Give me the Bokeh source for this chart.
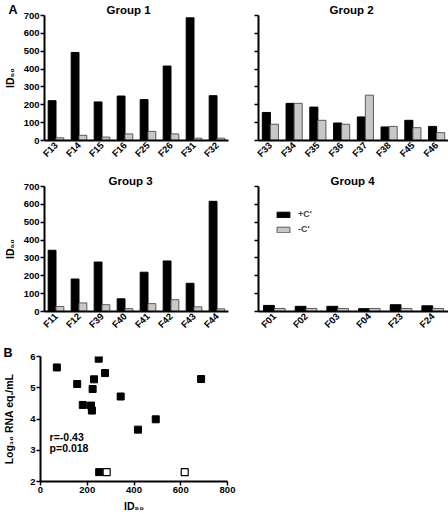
import math
from bokeh.plotting import figure
from bokeh.layouts import column, row
from bokeh.models import (FactorRange, Range1d, FixedTicker, Title,
                          Legend, LegendItem, ColumnDataSource)
from bokeh.transform import dodge
from bokeh.core.properties import value
from bokeh.embed import file_html
from bokeh.resources import INLINE

FONT = "Liberation Sans"

# ---- data ----
g1_names = ["F13", "F14", "F15", "F16", "F25", "F26", "F31", "F32"]
g1_plus = [223, 493, 216, 249, 229, 417, 687, 251]
g1_minus = [15, 29, 19, 37, 51, 37, 13, 13]

g2_names = ["F33", "F34", "F35", "F36", "F37", "F38", "F45", "F46"]
g2_plus = [157, 208, 187, 98, 132, 76, 113, 79]
g2_minus = [91, 208, 113, 91, 254, 79, 72, 44]

g3_names = ["F11", "F12", "F39", "F40", "F41", "F42", "F43", "F44"]
g3_plus = [343, 182, 277, 71, 220, 283, 158, 617]
g3_minus = [28, 48, 38, 16, 44, 66, 26, 15]

g4_names = ["F01", "F02", "F03", "F04", "F23", "F24"]
g4_plus = [34, 29, 29, 16, 38, 32]
g4_minus = [17, 17, 17, 17, 17, 17]

y_ticks_bar = [0, 100, 200, 300, 400, 500, 600, 700]

sc_filled_id50 = [70, 157, 181, 216, 220, 223, 229, 249, 251, 276, 343, 417, 493, 687]
sc_filled_rna = [5.65, 5.12, 4.45, 4.43, 4.27, 4.96, 5.27, 5.93, 2.30, 5.47, 4.72, 3.66, 3.99, 5.28]
sc_open_id50 = [283, 617]
sc_open_rna = [2.30, 2.30]
x_ticks_b = [0, 200, 400, 600, 800]
y_ticks_b = [2, 3, 4, 5, 6]

stats_text = ["r=-0.43", "p=0.018"]
stats_x = [39, 39]
stats_y = [3.42, 3.07]

BLACK = "#000000"
GRAY = "#c8c8c8"
GRAY_LINE = "#5a5a5a"


def make_title(text, offset, standoff, size="11.5px"):
    return Title(text=text, align="left", offset=offset, standoff=standoff,
                 text_font=FONT, text_font_size=size, text_font_style="bold",
                 text_color=BLACK)


def style_axes(p, show_ylabels=True, ylabel=None):
    p.xgrid.visible = False
    p.ygrid.visible = False
    p.outline_line_color = None
    for ax in (p.xaxis[0], p.yaxis[0]):
        ax.axis_line_width = 2
        ax.axis_line_color = BLACK
        ax.major_label_text_font = FONT
        ax.major_label_text_font_style = "bold"
        ax.major_label_text_font_size = "9.5px"
        ax.major_label_text_color = BLACK
        ax.minor_tick_line_color = None
        ax.axis_label_text_font = FONT
        ax.axis_label_text_font_style = "bold"
        ax.axis_label_text_font_size = "10.5px"
        ax.axis_label_text_color = BLACK
    ya = p.yaxis[0]
    ya.major_tick_out = 4
    ya.major_tick_in = 0
    ya.major_tick_line_width = 1.5
    ya.major_label_standoff = 1
    if not show_ylabels:
        ya.major_label_text_color = None
    if ylabel:
        ya.axis_label = ylabel
        ya.axis_label_standoff = 5


def bar_panel(title, names, plus, minus, width, height, mbl, mbr, mbt, mbb,
              title_offset, show_ylabels=True, letter=None):
    src = ColumnDataSource(dict(name=names, plus=plus, minus=minus))
    p = figure(x_range=FactorRange(factors=names, range_padding=0),
               y_range=Range1d(0, 700), width=width, height=height,
               min_border_left=mbl, min_border_right=mbr,
               min_border_top=mbt, min_border_bottom=mbb,
               output_backend="svg", toolbar_location=None)
    r1 = p.vbar(x=dodge("name", -0.17, range=p.x_range), top="plus", width=0.34,
                source=src, fill_color=BLACK, line_color=BLACK, line_width=1)
    r2 = p.vbar(x=dodge("name", 0.17, range=p.x_range), top="minus", width=0.34,
                source=src, fill_color=GRAY, line_color=GRAY_LINE, line_width=1)
    if letter is None:
        p.title = make_title(title, title_offset, 0)
    else:
        # panel letter is the outer title; the group title sits next to the frame
        p.title = make_title(letter, -36, -30, "12.5px")
        p.add_layout(make_title(title, title_offset, 0), "above")
    style_axes(p, show_ylabels, "ID\u2085\u2080" if show_ylabels else None)
    p.yaxis.ticker = FixedTicker(ticks=y_ticks_bar)
    xa = p.xaxis[0]
    xa.major_tick_line_color = None
    xa.major_tick_out = 0
    xa.major_tick_in = 0
    xa.major_label_orientation = math.pi / 4
    xa.major_label_standoff = 3
    return p, r1, r2


p1, _, _ = bar_panel("Group 1", g1_names, g1_plus, g1_minus, 230, 171, 38, 2, 15, 31, 62, letter="A")
p2, _, _ = bar_panel("Group 2", g2_names, g2_plus, g2_minus, 218, 171, 28, 0, 15, 31, 71, False)
p3, _, _ = bar_panel("Group 3", g3_names, g3_plus, g3_minus, 230, 168, 38, 2, 15, 28, 64)
p4, r41, r42 = bar_panel("Group 4", g4_names, g4_plus, g4_minus, 218, 168, 28, 0, 15, 28, 72, False)

legend = Legend(items=[LegendItem(label="+C'", renderers=[r41]),
                       LegendItem(label="-C'", renderers=[r42])],
                location=(17, 77), orientation="vertical",
                border_line_color=None, background_fill_alpha=0,
                padding=0, margin=0, spacing=5,
                glyph_width=16, glyph_height=7, label_height=7,
                label_standoff=7, label_text_font=FONT,
                label_text_font_style="bold", label_text_font_size="9px")
p4.add_layout(legend)

# ---- panel B ----
p5 = figure(x_range=Range1d(0, 800), y_range=Range1d(2, 6), width=239, height=175,
            min_border_left=38, min_border_right=12, min_border_top=17, min_border_bottom=32,
            output_backend="svg", toolbar_location=None)
p5.title = make_title("B", -37, -6, "12.5px")
p5.scatter(x=sc_filled_id50, y=sc_filled_rna, marker="square", size=7,
           fill_color=BLACK, line_color=BLACK)
p5.scatter(x=sc_open_id50, y=sc_open_rna, marker="square", size=7,
           fill_color="white", line_color=BLACK, line_width=1.2)
p5.text(x=stats_x, y=stats_y, text=stats_text, text_font=value(FONT),
        text_font_style="bold", text_font_size="10.5px", text_baseline="middle",
        text_align="left", text_color=BLACK)
style_axes(p5, True, "Log\u2081\u2080 RNA eq./mL")
p5.yaxis.axis_label_standoff = 12
p5.yaxis.ticker = FixedTicker(ticks=y_ticks_b)
p5.xaxis.ticker = FixedTicker(ticks=x_ticks_b)
xb = p5.xaxis[0]
xb.axis_label = "ID\u2085\u2080"
xb.major_tick_out = 4
xb.major_tick_in = 0
xb.major_tick_line_width = 1.5
xb.major_label_standoff = 1
xb.axis_label_standoff = 4

layout = column(row(p1, p2), row(p3, p4), p5)
open("out.html", "w").write(file_html(layout, INLINE))
